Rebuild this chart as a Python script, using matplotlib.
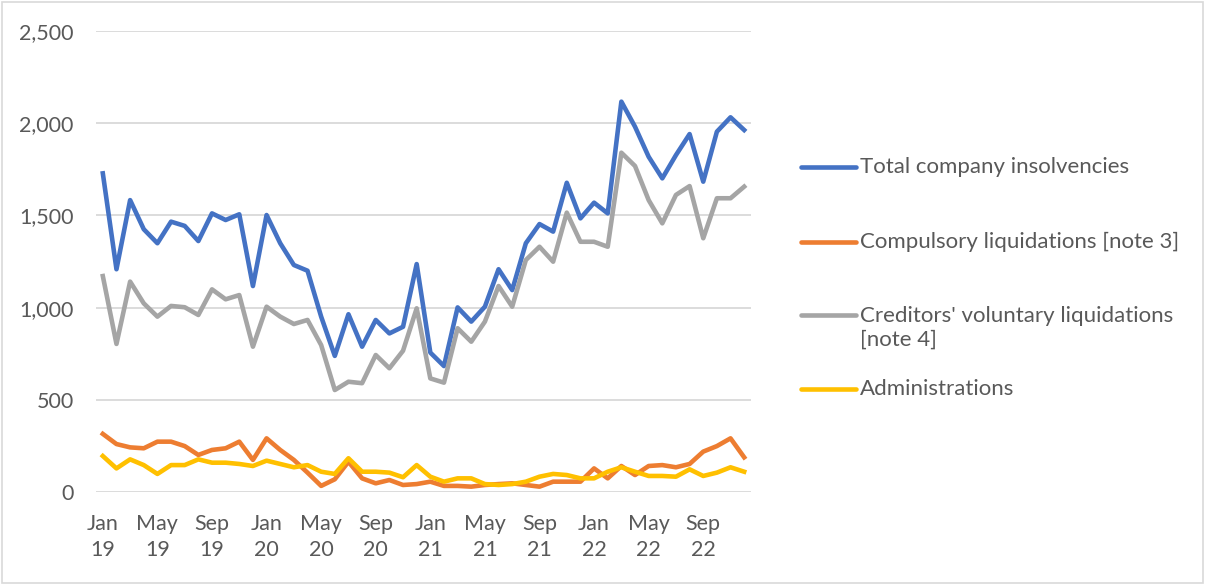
import numpy as np
import matplotlib.pyplot as plt
from matplotlib.patches import Rectangle
from matplotlib.lines import Line2D

# Monthly figures, Jan 2019 to Dec 2022
total = [1728, 1208, 1583, 1425, 1349, 1466, 1443, 1361, 1511, 1475, 1506, 1117,
         1502, 1349, 1231, 1200, 951, 738, 964, 788, 933, 860, 896, 1236,
         756, 683, 1001, 924, 1005, 1208, 1095, 1349, 1453, 1412, 1677, 1484,
         1569, 1511, 2117, 1981, 1818, 1701, 1827, 1941, 1683, 1954, 2032, 1963]
compulsory = [315, 260, 242, 237, 273, 273, 249, 201, 228, 237, 273, 174,
              291, 228, 174, 105, 33, 69, 164, 74, 47, 65, 38, 43,
              56, 33, 33, 29, 38, 43, 47, 38, 29, 56, 56, 56,
              128, 74, 141, 92, 141, 146, 134, 152, 219, 249, 291, 188]
cvl = [1171, 803, 1141, 1023, 951, 1009, 1002, 960, 1099, 1045, 1068, 788,
       1005, 951, 911, 933, 797, 553, 598, 590, 743, 671, 766, 996,
       616, 593, 888, 815, 924, 1117, 1005, 1258, 1330, 1249, 1515, 1357,
       1357, 1330, 1840, 1768, 1583, 1457, 1611, 1659, 1376, 1593, 1593, 1656]
admin = [195, 128, 177, 146, 98, 146, 146, 177, 159, 159, 152, 141,
         170, 152, 134, 146, 110, 98, 183, 110, 110, 105, 80, 146,
         83, 56, 74, 74, 43, 38, 43, 56, 83, 98, 92, 74,
         74, 110, 134, 110, 87, 87, 83, 123, 87, 105, 134, 110]

tick_labels = ['Jan\n19', 'May\n19', 'Sep\n19', 'Jan\n20', 'May\n20', 'Sep\n20',
               'Jan\n21', 'May\n21', 'Sep\n21', 'Jan\n22', 'May\n22', 'Sep\n22']
series_names = ['Total company insolvencies', 'Compulsory liquidations [note 3]',
                "Creditors' voluntary liquidations\n[note 4]", 'Administrations']
colors = ['#4472C4', '#ED7D31', '#A5A5A5', '#FFC000']

plt.rcParams['font.family'] = ['Lato', 'DejaVu Sans']
text_col = '#595959'
W, H = 1205, 585

fig = plt.figure(figsize=(W / 100, H / 100), dpi=100)
ax = fig.add_axes([96 / W, 93 / H, 655 / W, 461 / H])

x = np.arange(len(total))
lw = 3.3
for vals, c, name in zip([total, compulsory, cvl, admin], colors, series_names):
    ax.plot(x, vals, color=c, lw=lw, label=name, solid_joinstyle='round')

ax.set_xlim(-0.5, len(total) - 0.5)
ax.set_ylim(0, 2500)
ax.set_yticks(np.arange(0, 2501, 500))
ax.set_yticklabels([f'{v:,}' for v in range(0, 2501, 500)])
ax.set_xticks(np.arange(0, len(total), 4))
ax.set_xticklabels(tick_labels, ha='center', multialignment='center', linespacing=1.35)
ax.tick_params(length=0, labelsize=15.5, colors=text_col)
ax.tick_params(axis='y', pad=16)
ax.tick_params(axis='x', pad=16)
ax.grid(axis='y', color='#D9D9D9', lw=1.3)
ax.set_axisbelow(True)
for s in ax.spines.values():
    s.set_visible(False)

# legend drawn by hand so the gaps follow the reference
legend_y = [167, 242, 327.5, 389]
handle_y = [167, 242, 315, 389]
for name, c, ty, hy in zip(series_names, colors, legend_y, handle_y):
    fig.lines.append(Line2D([801 / W, 856 / W], [1 - hy / H, 1 - hy / H],
                            transform=fig.transFigure, color=c, lw=lw,
                            solid_capstyle='round'))
    fig.text(860 / W, 1 - ty / H, name, fontsize=16, color=text_col,
             ha='left', va='center', linespacing=1.25)

fig.patches.append(Rectangle((0.002, 0.003), 0.996, 0.994, transform=fig.transFigure,
                             fill=False, edgecolor='#D9D9D9', lw=1.2))

fig.savefig('out.png', dpi=100)
